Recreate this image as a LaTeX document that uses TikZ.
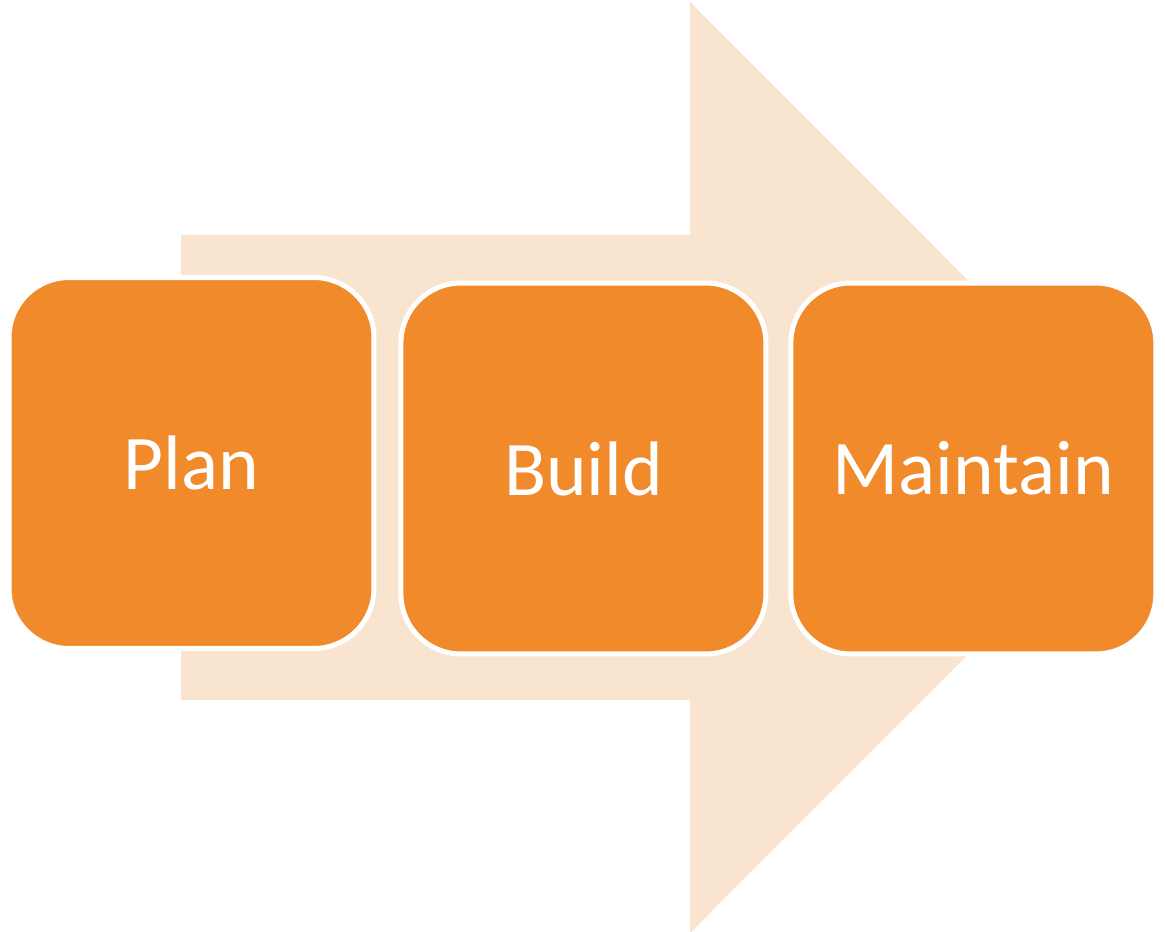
\documentclass[tikz,border=0pt]{standalone}
\usepackage{fontspec}
\setmainfont{Carlito}
\usetikzlibrary{positioning}
\definecolor{stageorange}{HTML}{F08A2A}
\definecolor{flowpeach}{HTML}{F9E4D0}

\begin{document}
\begin{tikzpicture}[
  x=0.02cm, y=-0.02cm,
  node distance=0.42cm,
  stage/.style={draw=white, line width=0.1cm, fill=stageorange, rounded corners=1.2cm,
    minimum width=7.3cm, minimum height=7.42cm, text=white,
    font=\fontsize{44}{52}\selectfont}
]
  \useasboundingbox (0,0) rectangle (1165,932);

  % --- Background flow arrow ---
  \fill[flowpeach] (181,235) -- (690,235) -- (690,2) -- (1155,467.5)
    -- (690,933) -- (690,700) -- (181,700) -- cycle;

  % --- Stages ---
  \node[stage] (plan) at (191.5,463) {Plan};
  \node[stage, right=0.44cm of plan, yshift=-0.11cm] (build) {Build};
  \node[stage, right=0.4cm of build] (maintain) {Maintain};

\end{tikzpicture}
\end{document}
